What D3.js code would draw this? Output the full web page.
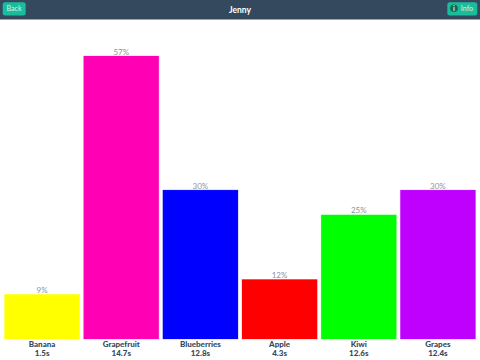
<!DOCTYPE html>
<html>
<head>
<meta charset="utf-8">
<script src="https://cdn.jsdelivr.net/npm/d3@7"></script>
<style>
html,body{margin:0;padding:0;background:#fff;overflow:hidden}
svg{display:block}
text{font-family:Lato,sans-serif}
</style>
</head>
<body>
<svg id="chart" width="480" height="360"></svg>
<script>
const title = "Jenny";
const categories = ["Banana","Grapefruit","Blueberries","Apple","Kiwi","Grapes"];
const percents = [9,57,30,12,25,30];
const times = ["1.5s","14.7s","12.8s","4.3s","12.6s","12.4s"];
const colors = ["#ffff00","#ff00b4","#0000ff","#ff0000","#00ff00","#bf00ff"];

const svg = d3.select("#chart");
const xs = d3.scaleBand().domain(categories).range([2.5,477.5]).paddingInner(0.0506).paddingOuter(0.0253);
const y = d3.scaleLinear().domain([0,57]).range([339,56]);

// header
svg.append("rect").attr("x",0).attr("y",0).attr("width",480).attr("height",19).attr("fill","#34495e");
svg.append("rect").attr("x",0).attr("y",19).attr("width",480).attr("height",1).attr("fill","#9aa4b0");
svg.append("text").attr("x",240).attr("y",12.5).attr("text-anchor","middle").attr("fill","#fff")
  .attr("font-size",8.5).attr("font-weight",700).text(title);

// buttons
svg.append("rect").attr("x",2.7).attr("y",2.2).attr("width",23).attr("height",13.3).attr("rx",2.5).attr("fill","#1abc9c");
svg.append("text").attr("x",14).attr("y",11.3).attr("text-anchor","middle").attr("fill","#d5f3ec").attr("font-size",7.2).text("Back");
svg.append("rect").attr("x",447.3).attr("y",2.3).attr("width",30).attr("height",13.3).attr("rx",2.5).attr("fill","#1abc9c");
svg.append("circle").attr("cx",454).attr("cy",8.2).attr("r",3.8).attr("fill","#0b6b5c");
svg.append("text").attr("x",454).attr("y",10.9).attr("text-anchor","middle").attr("fill","#e4f7f2").attr("font-size",7).attr("font-weight",700).text("i");
svg.append("text").attr("x",467).attr("y",11.2).attr("text-anchor","middle").attr("fill","#d5f3ec").attr("font-size",7.2).text("Info");

const idx = categories.map((c,i)=>i);
const g = svg.append("g");
g.selectAll("rect.bar").data(idx).join("rect").attr("class","bar")
  .attr("x",i=>xs(categories[i])).attr("width",xs.bandwidth())
  .attr("y",i=>y(percents[i])).attr("height",i=>y(0)-y(percents[i]))
  .attr("fill",i=>colors[i])
  .attr("stroke",i=>colors[i]).attr("stroke-opacity",0.3).attr("stroke-width",0.8);
g.selectAll("text.pct").data(idx).join("text").attr("class","pct")
  .attr("x",i=>xs(categories[i])+xs.bandwidth()/2).attr("y",i=>y(percents[i])-1.5)
  .attr("text-anchor","middle").attr("font-size",8).attr("fill","#8f949b")
  .text(i=>percents[i]+"%");
g.selectAll("text.cat").data(idx).join("text").attr("class","cat")
  .attr("x",i=>xs(categories[i])+xs.bandwidth()/2).attr("y",346.5)
  .attr("text-anchor","middle").attr("font-size",8).attr("font-weight",900).attr("fill","#34495e")
  .text(i=>categories[i]);
g.selectAll("text.time").data(idx).join("text").attr("class","time")
  .attr("x",i=>xs(categories[i])+xs.bandwidth()/2).attr("y",355.5)
  .attr("text-anchor","middle").attr("font-size",8).attr("font-weight",900).attr("fill","#34495e")
  .text(i=>times[i]);
</script>
</body>
</html>
